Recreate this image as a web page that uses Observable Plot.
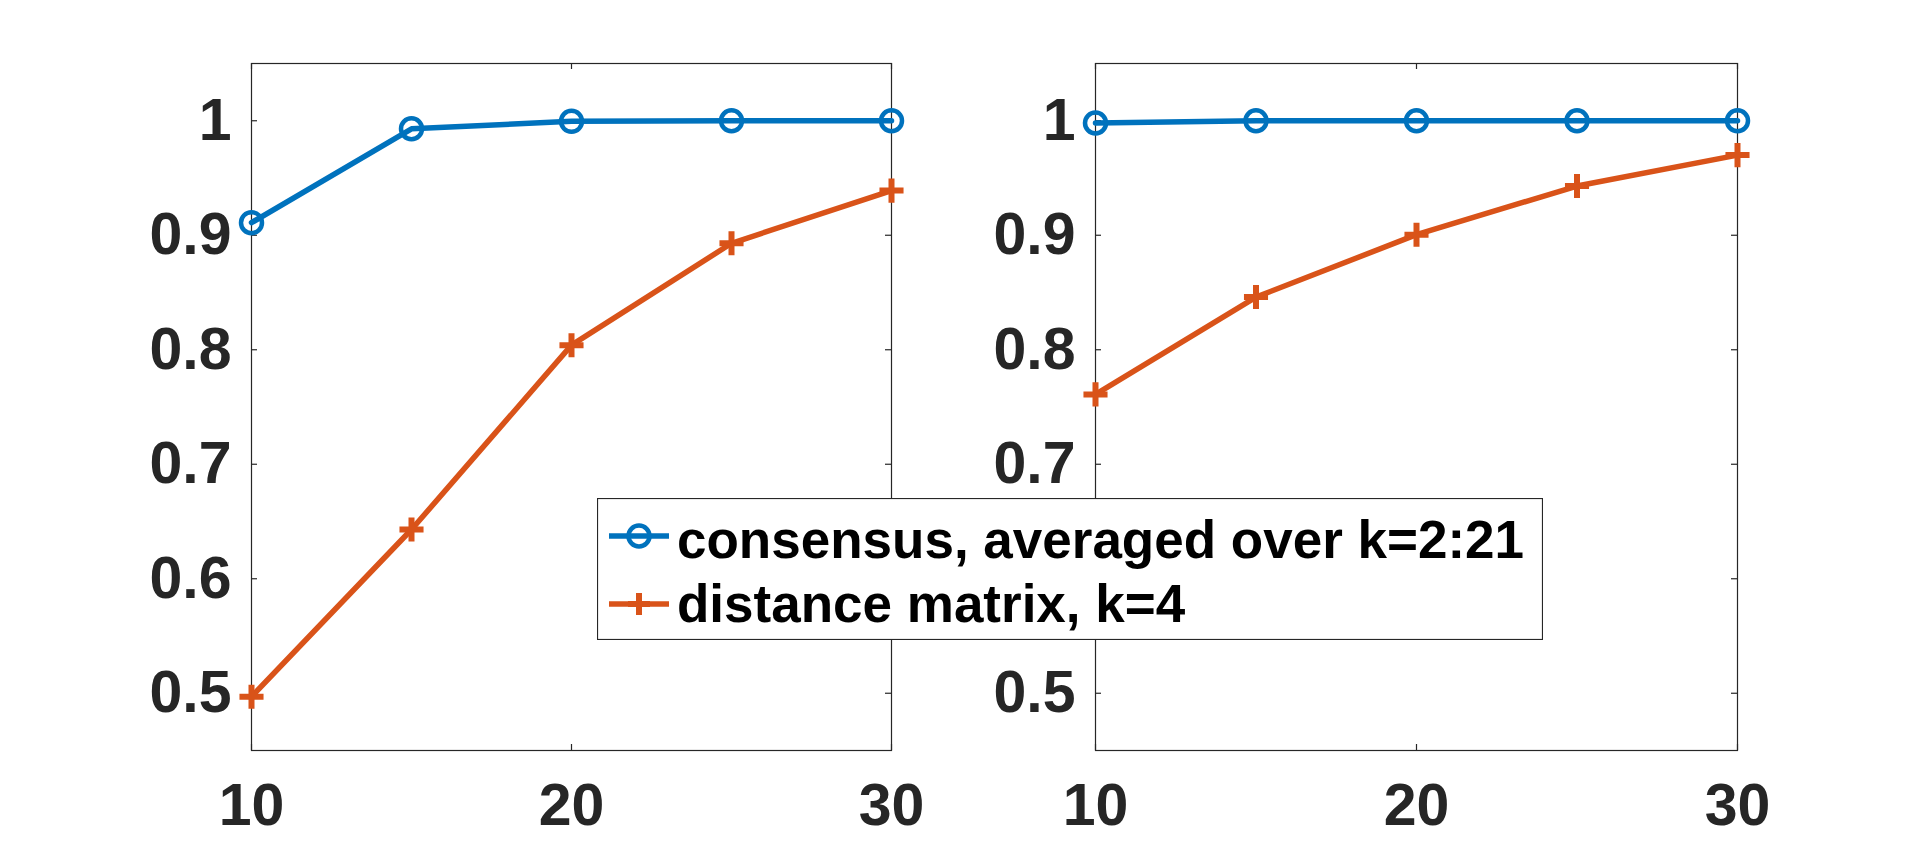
<!DOCTYPE html>
<html>
<head>
<meta charset="utf-8">
<script src="https://cdn.jsdelivr.net/npm/d3@7"></script>
<script src="https://cdn.jsdelivr.net/npm/@observablehq/plot@0.6"></script>
<style>
  html, body { margin: 0; padding: 0; background: #fff; }
  #wrap { position: relative; width: 1920px; height: 844px; overflow: hidden; background: #fff; }
  #wrap > svg.panel { position: absolute; left: 0; top: 0; margin: 0; }
  #wrap > svg#legend { position: absolute; left: 597px; top: 498px; margin: 0; }
</style>
</head>
<body>
<div id="wrap"></div>
<script>
// ---- data ----
const xValues = [10, 15, 20, 25, 30];
const leftConsensus = [0.911, 0.993, 0.9995, 1.0, 1.0];
const leftDistance = [0.497, 0.643, 0.804, 0.893, 0.939];
const rightConsensus = [0.998, 1.0, 1.0, 1.0, 1.0];
const rightDistance = [0.761, 0.846, 0.9005, 0.943, 0.970];
const xTicks = [10, 20, 30];
const yTicks = [0.5, 0.6, 0.7, 0.8, 0.9, 1.0];
const seriesNames = ["consensus, averaged over k=2:21", "distance matrix, k=4"];
const seriesColors = ["#0072BD", "#D95319"];

const W = 1920, H = 844, TOP = 63, BOTTOM = 750;
const FONT = "'Liberation Sans', Arial, Helvetica, sans-serif";
const AX = "#262626";

function panel(consensus, distance, left, right) {
  const fw = right - left, fh = BOTTOM - TOP;
  const rows = xValues.map((x, i) => ({x, c: consensus[i], d: distance[i]}));
  const svg = Plot.plot({
    width: W, height: H,
    marginLeft: left, marginRight: W - right, marginTop: TOP, marginBottom: H - BOTTOM,
    x: {domain: [10, 30]},
    y: {domain: [0.45, 1.05]},
    style: {fontFamily: FONT, background: "transparent", overflow: "visible"},
    marks: [
      Plot.frame({stroke: AX, strokeWidth: 1.2}),
      Plot.tickY(yTicks, {y: d => d, insetRight: fw - 6, stroke: AX, strokeWidth: 1.2}),
      Plot.tickY(yTicks, {y: d => d, insetLeft: fw - 6, stroke: AX, strokeWidth: 1.2}),
      Plot.tickX(xTicks, {x: d => d, insetBottom: fh - 6, stroke: AX, strokeWidth: 1.2}),
      Plot.tickX(xTicks, {x: d => d, insetTop: fh - 6, stroke: AX, strokeWidth: 1.2}),
      Plot.axisY(yTicks, {tickSize: 0, tickPadding: 20, fontSize: 59, fontWeight: "bold", color: AX,
        tickFormat: d => String(+d.toFixed(1)), label: null}),
      Plot.axisX(xTicks, {tickSize: 0, tickPadding: 33, fontSize: 59, fontWeight: "bold", color: AX,
        tickFormat: d => String(d), label: null}),
      Plot.line(rows, {x: "x", y: "c", stroke: seriesColors[0], strokeWidth: 5.5}),
      Plot.line(rows, {x: "x", y: "d", stroke: seriesColors[1], strokeWidth: 5.5}),
      Plot.dot(rows, {x: "x", y: "c", r: 10.5, stroke: seriesColors[0], strokeWidth: 4.5, fill: "none"}),
      Plot.dot(rows, {x: "x", y: "d", symbol: "plus", r: 7.8, stroke: seriesColors[1], strokeWidth: 6})
    ]
  });
  svg.classList.add("panel");
  return svg;
}

const wrap = document.getElementById("wrap");
wrap.appendChild(panel(leftConsensus, leftDistance, 251, 891));
wrap.appendChild(panel(rightConsensus, rightDistance, 1095, 1737));

// legend
const LW = 946, LH = 142;
const leg = d3.create("svg").attr("id", "legend").attr("width", LW).attr("height", LH)
  .style("font-family", FONT);
leg.append("rect").attr("x", 0.5).attr("y", 0.5).attr("width", LW - 1).attr("height", LH - 1)
  .attr("fill", "#fff").attr("stroke", AX).attr("stroke-width", 1.2);
const rowsY = [38, 106];
const baseY = [60, 124];
seriesNames.forEach((name, i) => {
  const g = leg.append("g");
  g.append("line").attr("x1", 12).attr("x2", 72).attr("y1", rowsY[i]).attr("y2", rowsY[i])
    .attr("stroke", seriesColors[i]).attr("stroke-width", 5.5);
  if (i === 0) {
    g.append("circle").attr("cx", 42).attr("cy", rowsY[i]).attr("r", 10.5)
      .attr("fill", "none").attr("stroke", seriesColors[i]).attr("stroke-width", 4.5);
  } else {
    g.append("path").attr("d", `M31,${rowsY[i]}H53M42,${rowsY[i] - 11}V${rowsY[i] + 11}`)
      .attr("stroke", seriesColors[i]).attr("stroke-width", 6).attr("fill", "none");
  }
  g.append("text").attr("x", 80).attr("y", baseY[i]).attr("font-size", 53).attr("font-weight", "bold")
    .attr("fill", "#000").text(name);
});
wrap.appendChild(leg.node());
</script>
</body>
</html>
